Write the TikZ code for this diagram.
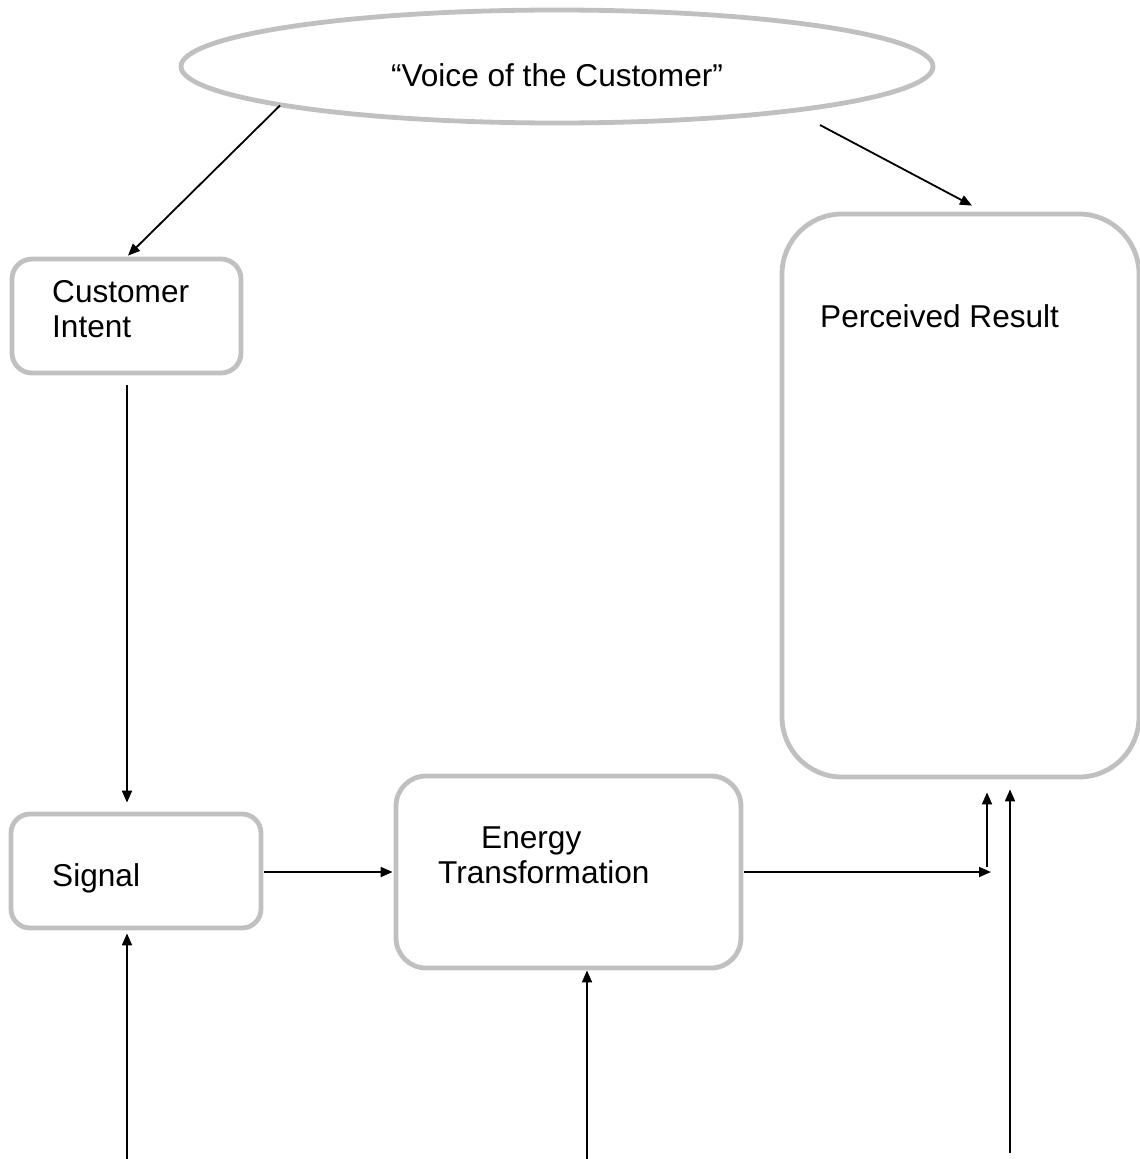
\documentclass[tikz,border=0pt]{standalone}
\usepackage{fontspec}
\setmainfont{Liberation Sans}
\usetikzlibrary{arrows.meta,shapes.geometric}
\definecolor{boxgray}{RGB}{192,192,192}
\tikzset{
  box/.style={draw=boxgray, line width=4.8pt, fill=white, inner sep=0pt},
  oval/.style={ellipse, draw=boxgray, line width=4.8pt, fill=white, inner sep=0pt},
  lbl/.style={inner sep=0pt, font=\fontsize{31.6}{35}\selectfont},
  arr/.style={line width=1.8pt, -{Triangle[length=12pt,width=10pt]}}
}
\begin{document}
\begin{tikzpicture}[x=1pt,y=-1pt]
\useasboundingbox (0,0) rectangle (1140,1159);

% shapes
\node[oval, minimum width=752pt, minimum height=113pt] (vc) at (557,66.5) {};
\node[box, rounded corners=20pt, minimum width=229pt, minimum height=114pt] (ci) at (126.5,316) {};
\node[box, rounded corners=19pt, minimum width=250pt, minimum height=114pt] (sg) at (136,871) {};
\node[box, rounded corners=30pt, minimum width=345pt, minimum height=192pt] (en) at (568.5,872) {};
\node[box, rounded corners=60pt, minimum width=357pt, minimum height=563pt] (pr) at (960.5,495.5) {};

% labels
\node[lbl, anchor=base] (tvc) at (557,86) {“Voice of the Customer”};
\node[lbl, anchor=base west] (tci1) at (52,302) {Customer};
\node[lbl, anchor=base west] (tci2) at (52,337) {Intent};
\node[lbl, anchor=base west] (tsg) at (52,886) {Signal};
\node[lbl, anchor=base west] (ten1) at (481,848) {Energy};
\node[lbl, anchor=base west] (ten2) at (438,883) {Transformation};
\node[lbl, anchor=base west] (tpr) at (820,327) {Perceived Result};

% free ends of the connectors
\coordinate (b1) at (127,1160);
\coordinate (b2) at (587,1160);
\coordinate (b3) at (1010,1153);
\coordinate (j) at (991,872);
\coordinate (j2) at (987,867);

% connectors
\draw[arr] ([shift={(-277,39)}]vc.center) -- ([shift={(1.5,-1)}]ci.north);
\draw[arr] ([shift={(263,58.5)}]vc.center) -- ([shift={(11.5,-6)}]pr.north);
\draw[arr] ([shift={(0.5,10)}]ci.south) -- ([shift={(-9,-9)}]sg.north);
\draw[arr] ([shift={(1,1)}]sg.east) -- ([shift={(-1,0)}]en.west);
\draw[arr] (b1) -- ([shift={(-9,3)}]sg.south);
\draw[arr] (b2) -- ([shift={(18.5,0)}]en.south);
\draw[arr] ([shift={(1,0)}]en.east) -- (j);
\draw[arr] (j2) -- ([shift={(26.5,13)}]pr.south);
\draw[arr] (b3) -- ([shift={(49.5,10)}]pr.south);
\end{tikzpicture}
\end{document}
